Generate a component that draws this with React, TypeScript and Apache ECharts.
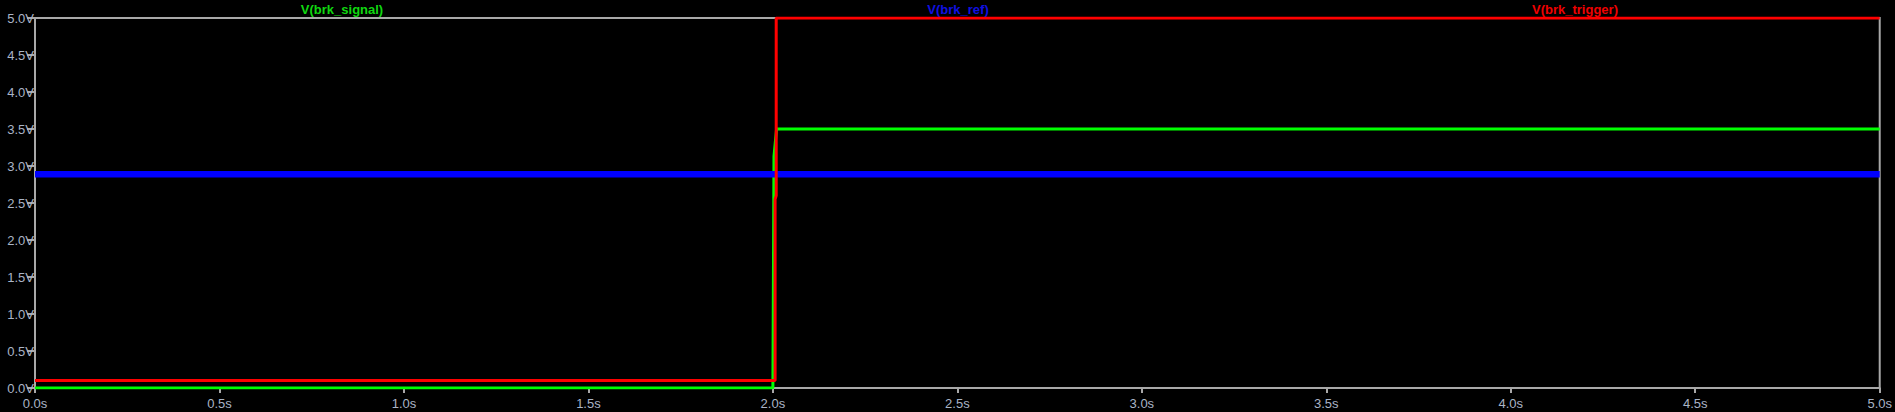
import React, { useEffect, useRef } from "react";
import * as echarts from "echarts";

const signalT = [0, 2.0, 2.003, 2.01, 5];
const signalV = [0, 0, 3.13, 3.5, 3.5];
const refT = [0, 5];
const refV = [2.89, 2.89];
const triggerT = [0, 2.006, 2.006, 2.009, 2.009, 5];
const triggerV = [0.1, 0.1, 2.55, 2.6, 5, 5];
const traceNames = ["V(brk_signal)", "V(brk_ref)", "V(brk_trigger)"];
const traceColors = ["#00ff00", "#0000ff", "#ff0000"];
const titleColors = ["#10d810", "#1010e0", "#f00000"];
const titleCenters = [342, 958, 1575];

const zip = (t: number[], v: number[]) => t.map((x, i) => [x, v[i]]);

export default function App() {
  const ref = useRef<HTMLDivElement>(null);
  useEffect(() => {
    const chart = echarts.init(ref.current!, undefined, { renderer: "svg" });
    const labelStyle = {
      color: "#aab4c6",
      fontFamily: "Liberation Sans, Arial, sans-serif",
      fontSize: 13,
    };
    chart.setOption({
      animation: false,
      backgroundColor: "#000000",
      grid: {
        left: 35,
        right: 11,
        top: 18,
        bottom: 24,
        show: true,
        borderColor: "#a8a8a8",
        borderWidth: 2,
        backgroundColor: "#000000",
      },
      xAxis: {
        type: "value",
        min: 0,
        max: 5,
        interval: 0.5,
        axisLine: { show: true, lineStyle: { color: "#a8a8a8", width: 2 } },
        axisTick: { show: true, length: 5, lineStyle: { color: "#a8a8a8", width: 2 } },
        splitLine: { show: false },
        axisLabel: {
          ...labelStyle,
          margin: 9,
          formatter: (v: number) => v.toFixed(1) + "s",
          showMaxLabel: true,
          showMinLabel: true,
        },
      },
      yAxis: {
        type: "value",
        min: 0,
        max: 5,
        interval: 0.5,
        axisLine: { show: true, lineStyle: { color: "#a8a8a8", width: 2 } },
        axisTick: { show: true, length: 8, lineStyle: { color: "#a8a8a8", width: 2 } },
        splitLine: { show: false },
        axisLabel: {
          ...labelStyle,
          margin: 1,
          formatter: (v: number) => v.toFixed(1) + "V",
        },
      },
      series: [
        {
          name: traceNames[0],
          type: "line",
          data: zip(signalT, signalV),
          showSymbol: false,
          lineStyle: { color: traceColors[0], width: 3 },
          z: 2,
        },
        {
          name: traceNames[1],
          type: "line",
          data: zip(refT, refV),
          showSymbol: false,
          lineStyle: { color: traceColors[1], width: 6.5 },
          z: 3,
        },
        {
          name: traceNames[2],
          type: "line",
          data: zip(triggerT, triggerV),
          showSymbol: false,
          lineStyle: { color: traceColors[2], width: 3 },
          z: 4,
        },
      ],
      graphic: traceNames.map((n, i) => ({
        type: "text",
        x: titleCenters[i],
        y: 9,
        style: {
          text: n,
          fill: titleColors[i],
          font: "bold 13px 'Liberation Sans', Arial, sans-serif",
          align: "center",
          verticalAlign: "middle",
        },
      })),
    });
    return () => chart.dispose();
  }, []);
  return (
    <div
      ref={ref}
      style={{ position: "fixed", left: 0, top: 0, width: 1895, height: 412, background: "#000" }}
    />
  );
}
